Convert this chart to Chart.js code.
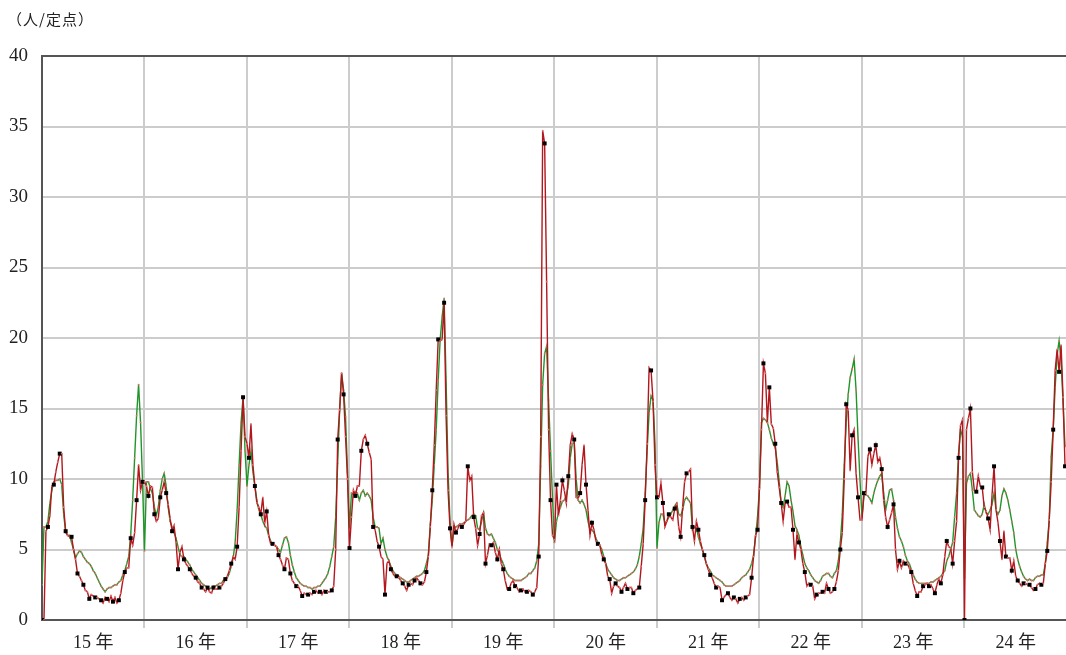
<!DOCTYPE html>
<html>
<head>
<meta charset="utf-8">
<script src="https://cdn.jsdelivr.net/npm/chart.js@4.4.1/dist/chart.umd.min.js"></script>
<style>
  body { margin: 0; background: #fff; }
  #wrap { position: relative; width: 1066px; height: 655px; }
  #unit { position: absolute; left: 7px; top: 8px; font: 15px "Noto Sans CJK JP", sans-serif; letter-spacing: 1px; color: #222; }
</style>
</head>
<body>
<div id="wrap">
  <div id="unit">（人/定点）</div>
  <canvas id="chart" width="1066" height="655"></canvas>
</div>
<script>
// year labels under each band
const yearLabels = ['15 年', '16 年', '17 年', '18 年', '19 年', '20 年', '21 年', '22 年', '23 年', '24 年'];
const yTicks = [0, 5, 10, 15, 20, 25, 30, 35, 40];

// weekly values, red line (with black square markers)
const red15 = [0, 0, 6.3, 6.6, 7.4, 9.5, 9.6, 10.5, 11.2, 11.8, 11.8, 8.0, 6.3, 6.0, 5.9, 5.9, 5.0, 4.3, 3.3, 3.1, 2.8, 2.5, 2.1, 2.0, 1.5, 1.8, 1.7, 1.6, 1.6, 1.5, 1.4, 1.2, 1.6, 1.5, 1.3, 1.7, 1.3, 1.6, 1.2, 1.4, 1.9, 2.8, 3.4, 3.7, 3.7, 5.8, 5.3, 6.2, 8.5, 11.0, 9.2, 9.8];
const red16 = [9.8, 9.5, 8.8, 9.5, 9.4, 7.5, 7.0, 7.2, 8.7, 9.2, 9.8, 9.0, 8.2, 7.2, 6.3, 6.7, 5.5, 3.6, 4.8, 5.2, 4.3, 4.0, 3.8, 3.6, 3.3, 3.1, 3.0, 2.7, 2.6, 2.3, 2.2, 2.0, 2.3, 2.0, 1.9, 2.3, 2.2, 2.2, 2.3, 2.4, 2.6, 2.9, 3.1, 3.5, 4.0, 4.5, 4.3, 5.2, 8.0, 12.0, 15.8, 13.0];
const red17 = [12.5, 11.5, 13.9, 11.0, 9.5, 8.3, 8.0, 7.5, 8.7, 6.9, 7.7, 6.0, 5.4, 5.4, 5.3, 5.2, 4.6, 4.3, 3.9, 3.6, 4.4, 4.3, 3.3, 2.8, 2.6, 2.4, 2.4, 2.1, 1.7, 1.9, 1.8, 1.8, 1.9, 1.8, 2.0, 2.1, 1.9, 2.0, 1.8, 2.1, 2.0, 2.0, 2.0, 2.1, 2.4, 5.0, 12.8, 14.9, 17.5, 16.0, 13.0, 10.0];
const red18 = [5.1, 7.3, 9.2, 8.8, 9.5, 9.5, 12.0, 12.8, 13.1, 12.5, 11.9, 11.4, 6.6, 6.4, 5.6, 5.2, 4.5, 4.3, 1.8, 4.0, 4.2, 3.6, 3.3, 3.1, 3.1, 3.0, 2.8, 2.6, 2.4, 2.1, 2.5, 2.6, 2.5, 2.8, 3.0, 2.8, 2.6, 2.5, 2.7, 3.4, 4.5, 6.6, 9.2, 12.4, 16.3, 19.9, 19.8, 19.9, 22.5, 14.5, 9.2, 6.5];
const red19 = [5.2, 6.8, 6.2, 6.5, 6.8, 6.6, 6.8, 7.0, 10.9, 9.9, 10.2, 7.3, 6.5, 5.3, 6.1, 7.4, 7.6, 4.0, 4.6, 5.4, 5.3, 5.5, 4.8, 4.3, 5.0, 4.0, 3.6, 2.8, 2.2, 2.2, 2.6, 2.8, 2.4, 2.3, 2.0, 2.1, 2.2, 2.0, 2.0, 2.1, 2.0, 1.8, 2.0, 2.3, 4.5, 13.0, 34.7, 33.8, 24.0, 13.5, 8.5, 6.0];
const red20 = [5.7, 9.6, 7.4, 8.5, 9.9, 9.2, 8.3, 10.2, 12.4, 13.2, 12.8, 8.7, 8.6, 9.0, 11.0, 12.4, 9.6, 7.8, 6.0, 6.9, 6.4, 5.6, 5.4, 5.3, 4.6, 4.3, 4.0, 3.1, 2.9, 1.9, 2.4, 2.6, 2.4, 2.3, 2.0, 2.3, 2.6, 2.2, 2.3, 2.3, 1.9, 2.1, 2.2, 2.3, 3.8, 5.4, 8.5, 12.5, 17.9, 17.7, 15.5, 11.0];
const red21 = [8.7, 8.7, 9.7, 8.3, 6.6, 7.0, 7.5, 7.3, 7.1, 7.9, 8.2, 6.6, 5.9, 8.0, 9.8, 10.4, 10.5, 10.7, 6.6, 5.6, 7.0, 6.4, 5.6, 5.0, 4.6, 4.0, 3.6, 3.2, 3.0, 2.6, 2.3, 2.4, 2.3, 1.4, 1.6, 1.8, 1.9, 1.6, 1.4, 1.6, 1.5, 1.2, 1.5, 1.6, 1.4, 1.6, 1.7, 1.8, 3.0, 4.5, 6.0, 6.4];
const red22 = [9.3, 13.5, 18.2, 17.5, 14.0, 16.5, 13.9, 13.6, 12.5, 10.5, 9.4, 8.3, 7.0, 8.3, 8.4, 8.0, 8.0, 6.4, 4.3, 6.1, 5.5, 5.0, 4.0, 3.4, 2.4, 2.6, 2.5, 2.4, 1.5, 1.8, 1.9, 1.9, 2.0, 1.9, 2.6, 2.2, 1.9, 2.0, 2.2, 2.7, 3.5, 5.0, 6.2, 10.0, 15.3, 14.9, 10.6, 13.1, 13.5, 10.4, 8.7, 7.1];
const red23 = [7.1, 9.0, 9.0, 11.6, 12.1, 11.0, 11.8, 12.4, 11.2, 11.5, 10.7, 8.5, 7.3, 6.6, 7.1, 7.6, 8.2, 5.0, 3.6, 4.2, 3.7, 4.2, 4.0, 4.0, 3.7, 3.4, 2.6, 2.1, 1.7, 2.0, 2.0, 2.4, 2.5, 2.6, 2.4, 2.5, 2.2, 1.9, 2.5, 2.9, 2.6, 3.2, 4.5, 5.6, 5.2, 5.1, 4.0, 5.6, 7.0, 11.5, 13.8, 14.2];
const red24 = [0, 13.5, 14.3, 15.0, 10.5, 9.2, 9.1, 10.2, 9.5, 9.4, 8.0, 7.7, 7.2, 6.4, 8.9, 10.9, 7.8, 6.9, 5.6, 4.3, 6.3, 4.5, 4.4, 4.4, 3.5, 4.2, 3.1, 2.8, 2.6, 2.4, 2.6, 2.6, 2.5, 2.5, 2.3, 2.1, 2.2, 2.5, 2.6, 2.5, 2.6, 4.0, 4.9, 7.1, 9.8, 13.5, 17.7, 19.2, 17.6, 19.5, 15.8, 10.9];

// weekly values, green line
const green15 = [2.5, 6.6, 6.6, 7.0, 8.3, 9.2, 9.8, 9.9, 9.9, 10.0, 9.6, 7.5, 6.2, 6.0, 6.0, 5.5, 5.0, 4.4, 4.7, 4.9, 4.8, 4.5, 4.3, 4.1, 4.0, 3.8, 3.5, 3.3, 3.0, 2.7, 2.4, 2.2, 2.0, 2.2, 2.3, 2.3, 2.4, 2.5, 2.5, 2.7, 2.8, 3.2, 3.5, 4.0, 4.5, 6.0, 8.5, 11.5, 14.5, 16.7, 14.0, 9.8];
const green16 = [4.9, 9.8, 9.8, 9.3, 9.0, 8.0, 7.4, 8.0, 9.2, 10.0, 10.4, 9.5, 8.0, 7.0, 6.6, 6.2, 5.8, 5.2, 4.6, 4.5, 4.5, 4.3, 4.1, 3.9, 3.6, 3.4, 3.2, 3.0, 2.8, 2.6, 2.5, 2.4, 2.3, 2.2, 2.3, 2.4, 2.4, 2.5, 2.6, 2.6, 2.8, 2.9, 3.0, 3.3, 3.8, 4.4, 5.5, 7.8, 11.0, 14.0, 15.8, 12.0];
const green17 = [9.5, 11.0, 12.0, 10.5, 9.5, 8.5, 7.8, 7.5, 7.0, 6.7, 6.5, 6.0, 5.6, 5.4, 5.3, 5.2, 5.0, 4.8, 5.3, 5.8, 5.9, 5.5, 4.6, 3.9, 3.4, 3.0, 2.8, 2.6, 2.5, 2.4, 2.4, 2.3, 2.3, 2.2, 2.3, 2.3, 2.4, 2.4, 2.6, 2.8, 3.0, 3.3, 3.8, 4.5, 5.2, 7.3, 11.1, 14.9, 17.5, 16.3, 14.4, 10.5];
const green18 = [6.5, 9.0, 8.9, 9.1, 9.0, 8.5, 9.0, 9.2, 8.8, 9.0, 8.8, 8.5, 7.3, 6.6, 6.6, 6.5, 5.4, 5.8, 5.0, 4.5, 4.2, 3.8, 3.5, 3.3, 3.2, 3.1, 3.0, 2.9, 2.8, 2.7, 2.7, 2.8, 2.9, 3.0, 3.1, 3.1, 3.2, 3.3, 3.5, 4.0, 4.6, 6.8, 8.5, 11.0, 13.5, 17.0, 19.9, 21.5, 22.8, 17.0, 10.5, 7.0];
const green19 = [5.2, 6.5, 6.6, 6.7, 6.8, 6.8, 6.9, 7.0, 7.1, 7.2, 7.4, 7.5, 7.4, 6.5, 6.4, 7.0, 7.6, 6.5, 6.1, 6.0, 6.1, 5.8, 5.5, 5.0, 4.7, 4.3, 4.0, 3.6, 3.3, 3.1, 3.0, 2.9, 2.8, 2.8, 2.8, 2.8, 2.9, 3.0, 3.1, 3.3, 3.3, 3.5, 3.7, 4.2, 5.4, 10.9, 16.7, 18.9, 19.4, 15.6, 12.0, 8.6];
const green20 = [5.5, 7.0, 7.6, 8.0, 8.4, 8.5, 8.8, 9.5, 11.5, 12.5, 12.6, 10.0, 8.5, 8.3, 8.5, 8.2, 7.8, 7.0, 6.4, 6.4, 6.2, 5.8, 5.5, 5.3, 5.0, 4.5, 4.0, 3.6, 3.4, 3.2, 3.0, 2.9, 2.8, 2.8, 2.9, 3.0, 3.0, 3.1, 3.2, 3.3, 3.4, 3.6, 3.9, 4.5, 5.4, 6.5, 9.0, 12.0, 14.7, 15.9, 15.6, 12.5];
const green21 = [5.1, 6.9, 7.5, 7.5, 6.9, 7.0, 7.3, 7.5, 7.8, 8.1, 8.3, 7.5, 7.4, 7.8, 8.5, 8.7, 8.5, 8.3, 6.4, 6.6, 6.5, 5.9, 5.4, 5.0, 4.5, 4.0, 3.7, 3.5, 3.2, 3.1, 3.0, 2.9, 2.8, 2.7, 2.5, 2.4, 2.4, 2.4, 2.4, 2.5, 2.6, 2.7, 2.8, 3.0, 3.1, 3.2, 3.4, 3.6, 4.0, 4.6, 5.9, 7.3];
const green22 = [9.4, 14.0, 14.3, 14.2, 14.0, 13.5, 12.9, 12.5, 12.2, 11.2, 9.8, 8.3, 8.0, 8.8, 9.8, 9.5, 8.5, 7.7, 6.7, 6.4, 6.0, 5.2, 4.6, 4.0, 3.7, 3.5, 3.2, 3.0, 2.8, 2.7, 2.6, 2.8, 3.1, 3.2, 3.3, 3.3, 3.1, 3.0, 3.3, 3.5, 4.2, 5.5, 7.5, 11.0, 14.0, 16.0, 17.2, 17.8, 18.5, 16.3, 12.9, 9.9];
const green23 = [7.3, 8.8, 8.9, 8.8, 8.6, 8.3, 9.0, 9.5, 9.9, 10.2, 10.4, 9.0, 7.8, 8.5, 9.2, 9.3, 8.5, 7.3, 6.5, 5.9, 5.6, 5.2, 4.6, 4.2, 4.0, 3.6, 3.2, 2.9, 2.7, 2.6, 2.6, 2.6, 2.6, 2.6, 2.6, 2.7, 2.7, 2.8, 2.9, 3.0, 3.1, 3.3, 3.5, 4.2, 4.5, 5.0, 5.5, 7.3, 9.0, 11.8, 13.5, 13.0];
const green24 = [3.0, 9.7, 10.2, 10.4, 9.2, 7.8, 7.6, 7.4, 7.3, 7.5, 8.2, 7.6, 7.5, 7.8, 8.2, 9.0, 7.8, 7.5, 7.8, 8.8, 9.3, 9.0, 8.5, 7.8, 7.0, 6.2, 5.0, 4.3, 3.8, 3.4, 3.1, 2.9, 2.8, 2.9, 2.8, 2.8, 3.0, 3.1, 3.1, 3.2, 3.2, 4.0, 5.5, 7.1, 11.6, 13.5, 16.5, 18.8, 19.8, 18.5, 15.4, 12.3];

const WEEKS = 52;
const redValues = [red15, red16, red17, red18, red19, red20, red21, red22, red23, red24].flat();
const greenValues = [green15, green16, green17, green18, green19, green20, green21, green22, green23, green24].flat();

// points on a week axis
const toPoints = (arr) => arr.map((v, i) => ({ x: i, y: v }));

const ctx = document.getElementById('chart');

new Chart(ctx, {
    type: 'line',
    data: {
        datasets: [
            {
                data: toPoints(redValues),
                borderColor: '#b3161c',
                borderWidth: 1.4,
                tension: 0,
                pointStyle: (c) => (c.dataIndex % 3 === 0 ? 'rect' : 'circle'),
                pointRadius: (c) => (c.dataIndex % 3 === 0 ? 2.8 : 0.9),
                pointBackgroundColor: (c) => (c.dataIndex % 3 === 0 ? '#000' : '#e07070'),
                pointBorderWidth: 0
            },
            {
                data: toPoints(greenValues),
                borderColor: '#22952a',
                borderWidth: 1.4,
                tension: 0,
                pointRadius: 0.9,
                pointBackgroundColor: '#e07070',
                pointBorderWidth: 0
            }
        ]
    },
    options: {
        responsive: false,
        animation: false,
        layout: { autoPadding: false, padding: { top: 56, right: 0, bottom: 0, left: 0 } },
        plugins: {
            legend: { display: false },
            tooltip: { enabled: false }
        },
        scales: {
            x: {
                type: 'linear',
                min: 0,
                max: WEEKS * yearLabels.length - 0.5,
                afterBuildTicks: (scale) => {
                    let ticks = [];
                    for (let v = 0; v <= scale.max; v += WEEKS / 2) ticks.push({ value: v });
                    scale.ticks = ticks;
                },
                afterFit: (scale) => { scale.height = 35; },
                ticks: {
                    autoSkip: false,
                    maxRotation: 0,
                    padding: 4,
                    color: '#222',
                    font: { family: '"Liberation Serif", "Noto Sans CJK JP"', size: 18 },
                    callback: (v) => (v % WEEKS === WEEKS / 2 ? yearLabels[(v - WEEKS / 2) / WEEKS] : '')
                },
                grid: {
                    color: (c) => (c.tick && c.tick.value % WEEKS === 0 && c.tick.value > 0 ? '#cccccc' : 'rgba(0,0,0,0)'),
                    lineWidth: 2,
                    tickLength: 8
                },
                border: { color: '#555', width: 2 }
            },
            y: {
                min: 0,
                max: 40,
                afterBuildTicks: (scale) => { scale.ticks = yTicks.map((v) => ({ value: v })); },
                afterFit: (scale) => { scale.width = 42; },
                ticks: {
                    padding: 14,
                    color: '#222',
                    font: { family: '"Liberation Serif"', size: 19 }
                },
                grid: {
                    color: (c) => (c.tick && c.tick.value === 40 ? '#555' : '#cccccc'),
                    lineWidth: 2,
                    drawTicks: false
                },
                border: { color: '#555', width: 2 }
            }
        }
    }
});
</script>
</body>
</html>
